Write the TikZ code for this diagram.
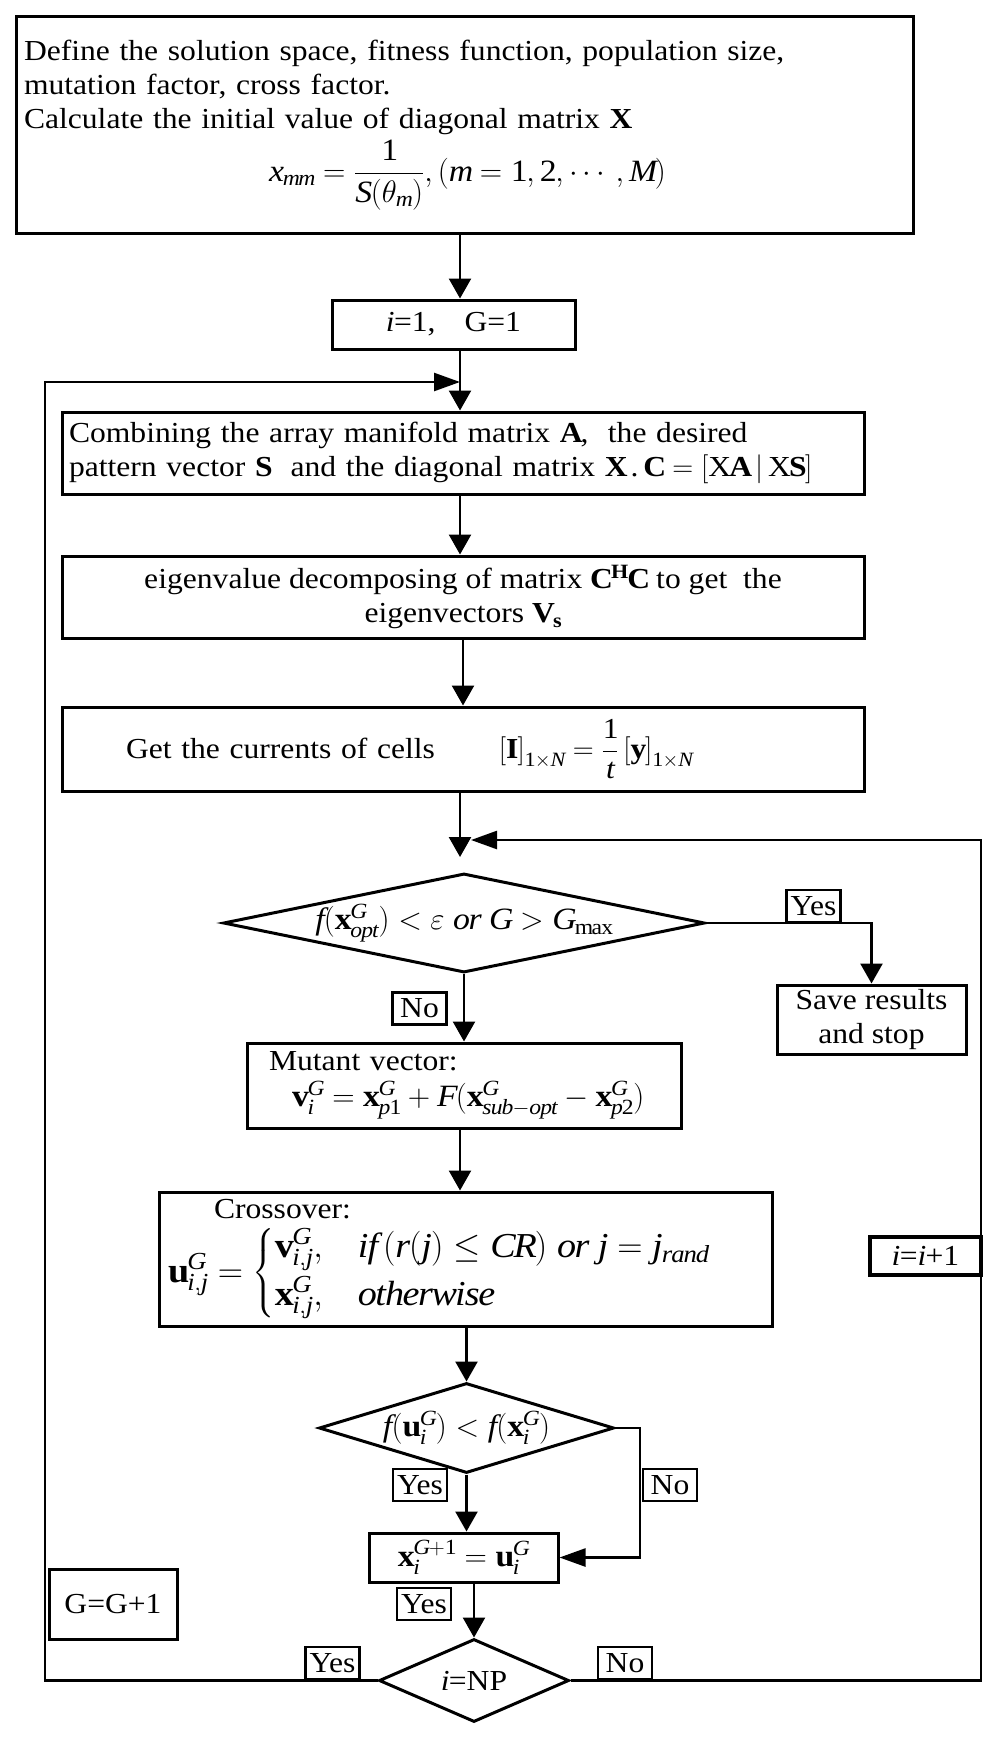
\RequirePackage{fix-cm}
\documentclass[tikz,border=0pt]{standalone}
\usepackage{amsmath}
\usepackage{mathspec}
\setmainfont[FakeStretch=1.09]{Liberation Serif}
\setmathsfont(Digits,Latin)[FakeStretch=1.09]{Liberation Serif}
\setmathrm[FakeStretch=1.09]{Liberation Serif}
\usetikzlibrary{shapes.geometric,arrows.meta}
\newcommand{\fsz}[1]{\fontsize{#1}{#1}\selectfont}
\begin{document}
\begin{tikzpicture}[x=1pt,y=-1pt,
  every node/.style={font=\fontsize{29}{34}\selectfont},
  box/.style={draw, line width=3pt, inner sep=0pt},
  dia/.style={draw, diamond, line width=3pt, inner sep=0pt},
  lbl/.style={draw, line width=2.5pt, inner sep=0pt, minimum width=54pt, minimum height=32pt},
  conn/.style={line width=2.5pt},
  vt/.style={conn, -{Triangle[length=20pt,width=22pt]}},
  ht/.style={conn, -{Triangle[length=26pt,width=18pt]}}]
\fill[white] (0,0) rectangle (1000,1737);
\useasboundingbox (0,0) rectangle (1000,1737);

\coordinate (cA) at (460,0);
\coordinate (cB) at (463,0);
\coordinate (Lx) at (45,0);
\coordinate (Rx) at (981,0);
\coordinate (nx) at (640,0);
\coordinate (loopin) at (460,382);
\coordinate (rin) at (471,840);
\coordinate (d1in) at (460,857);

\node[box, minimum width=897pt, minimum height=216pt, text width=881pt, align=left] (init) at (464.5,125)
 {Define the solution space, fitness function, population size,\\
  mutation factor, cross factor.\\
  Calculate the initial value of diagonal matrix $\mathbf{X}$\\[4pt]
  \hspace*{245pt}{\fsz{31}$x_{mm}=\dfrac{1}{S(\theta_m)},\left(m=1,2,\cdots,M\right)$}};

\node[box, minimum width=243pt, minimum height=49pt] (start) at (453.5,324.5) {$i$=1,\quad G=1};

\node[box, minimum width=802pt, minimum height=82pt, text width=788pt, align=left] (comb) at (463,453)
 {Combining the array manifold matrix $\mathbf{A}$,\ \ the desired\\
  pattern vector $\mathbf{S}$\ \ and the diagonal matrix $\mathbf{X}$\,.\,$\mathbf{C}=\left[\mathrm{X}\mathbf{A}\,|\,\mathrm{X}\mathbf{S}\right]$};

\node[box, minimum width=802pt, minimum height=82pt, align=center] (eig) at (463,597)
 {eigenvalue decomposing of matrix $\mathbf{C}^{\mathbf{H}}\mathbf{C}$ to get\ \ the\\
  eigenvectors $\mathbf{V}_{\mathbf{s}}$};

\node[box, minimum width=802pt, minimum height=84pt, text width=802pt, align=left] (cur) at (463,749)
 {\hspace*{64pt}Get the currents of cells\hspace{64pt}$\left[\mathbf{I}\right]_{1\times N}=\dfrac{1}{t}\left[\mathbf{y}\right]_{1\times N}$};

\node[dia, minimum width=476pt, minimum height=98pt, aspect=4.86] (d1) at (464,923)
 {\fsz{31}$f(\mathbf{x}^{G}_{opt})<\varepsilon\ or\ G>G_{\max}$};

\node[box, minimum width=189pt, minimum height=69pt, align=center] (save) at (871.5,1019.5) {Save results\\and stop};

\node[box, minimum width=434pt, minimum height=85pt, text width=390pt, align=left] (mut) at (464,1085.5)
 {Mutant vector:\\[2pt]
  \hspace*{23pt}{\fsz{31}$\mathbf{v}_i^G=\mathbf{x}_{p1}^G+F(\mathbf{x}^G_{sub-opt}-\mathbf{x}^G_{p2})$}};

\node[box, minimum width=613pt, minimum height=134pt, text width=595pt, align=left] (cross) at (465.5,1259)
 {\hspace*{46pt}Crossover:\\[8pt]
  {\fsz{35}$\mathbf{u}^G_{i,j}=\begin{cases}\mathbf{v}^G_{i,j}, & if\,(r(j)\le CR)\ or\ j=j_{rand}\\[6pt] \mathbf{x}^G_{i,j}, & otherwise\end{cases}$}};

\node[dia, minimum width=295pt, minimum height=90pt, aspect=3.28] (d2) at (466.5,1428)
 {\fsz{31}$f(\mathbf{u}_i^G)<f(\mathbf{x}_i^G)$};

\node[box, minimum width=189pt, minimum height=49pt] (upd) at (463.5,1557.5) {\fsz{31}$\mathbf{x}_i^{G+1}=\mathbf{u}_i^G$};

\node[dia, minimum width=190pt, minimum height=83pt, aspect=2.29] (d3) at (474,1680.5) {$i$=NP};

\node[box, line width=4pt, minimum width=111pt, minimum height=38pt] (inc) at (925.5,1256) {$i$=$i$+1};
\node[box, minimum width=128pt, minimum height=70pt] (gg) at (113,1604) {G=G+1};

\node[lbl] (yes1) at (813.5,906) {Yes};
\node[lbl] (no1) at (419.5,1008.5) {No};
\node[lbl] (yes2) at (420,1485) {Yes};
\node[lbl] (no2) at (670,1485) {No};
\node[lbl] (yes3) at (424,1604) {Yes};
\node[lbl] (yes4) at (332.5,1663) {Yes};
\node[lbl] (no4) at (625,1663) {No};

\draw[vt] (init.south -| cA) -- (start.north -| cA);
\draw[vt] (start.south -| cA) -- (comb.north -| cA);
\draw[vt] (comb.south -| cA) -- (eig.north -| cA);
\draw[vt] (eig.south -| cB) -- (cur.north -| cB);
\draw[vt] (cur.south -| cA) -- (d1in);
\draw[vt] (d1.east) -- (d1.east -| save.north) -- (save.north);
\draw[vt] (d1.south) -- (mut.north);
\draw[vt] (mut.south -| cA) -- (cross.north -| cA);
\draw[vt] (cross.south -| d2.north) -- (d2.north);
\draw[vt] (d2.south) -- (upd.north -| d2.south);
\draw[ht] (d2.east) -- (d2.east -| nx) |- (upd.east);
\draw[vt] (upd.south -| d3.north) -- (d3.north);
\draw[ht] (d3.west) -- (d3.west -| Lx) |- (loopin);
\draw[ht] (d3.east) -- (d3.east -| Rx) |- (rin);
\end{tikzpicture}
\end{document}
